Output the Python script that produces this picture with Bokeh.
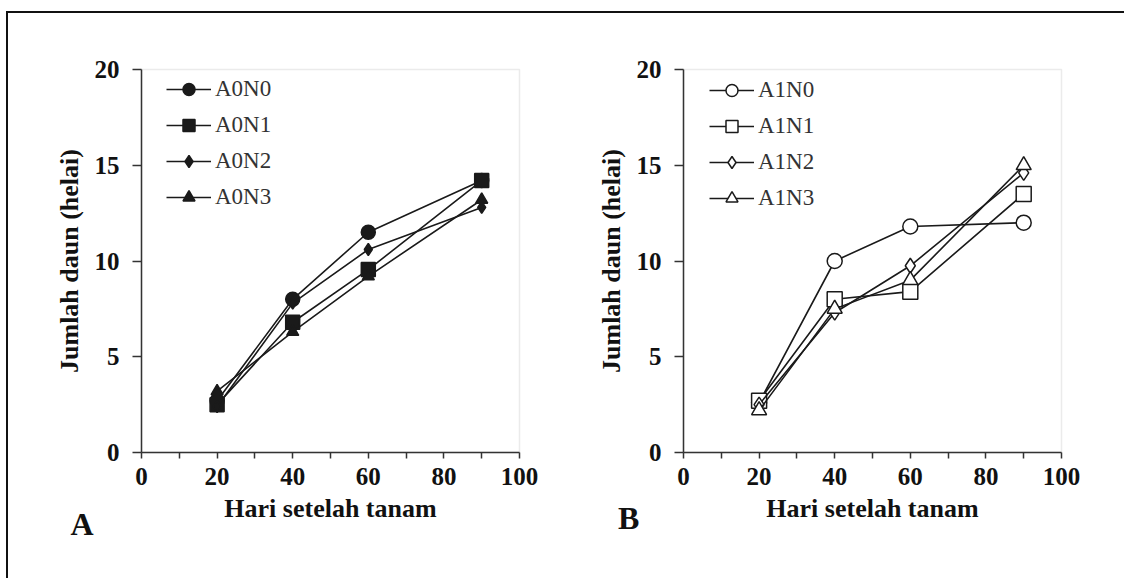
from bokeh.plotting import figure
from bokeh.layouts import row, column
from bokeh.models import FixedTicker, Legend, LegendItem, Title, Range1d
from bokeh.embed import file_html
from bokeh.resources import INLINE

# ---------------- data ----------------
days = [20, 40, 60, 90]

a_labels = ["A0N0", "A0N1", "A0N2", "A0N3"]
a0n0 = [2.7, 8.0, 11.5, 14.2]
a0n1 = [2.5, 6.8, 9.55, 14.2]
a0n2 = [2.4, 7.8, 10.6, 12.8]
a0n3 = [3.2, 6.3, 9.2, 13.2]

b_labels = ["A1N0", "A1N1", "A1N2", "A1N3"]
a1n0 = [2.6, 10.0, 11.8, 12.0]
a1n1 = [2.7, 8.0, 8.4, 13.5]
a1n2 = [2.5, 7.3, 9.75, 14.6]
a1n3 = [2.2, 7.5, 9.0, 15.0]

x_ticks = [0, 20, 40, 60, 80, 100]
x_minor = [10, 30, 50, 70, 90]
y_ticks = [0, 5, 10, 15, 20]

x_title = "Hari setelah tanam"
y_title = "Jumlah daun (helai)"

markers = ["circle", "square", "diamond", "triangle"]

SERIF = "Liberation Serif"
INK = "#1a1a1a"


def make_panel(series, labels, filled, sizes, letter, letter_offset,
               letter_standoff, leg_loc, width, height, ml, mr, mt, mb):
    p = figure(width=width, height=height, output_backend="svg",
               toolbar_location=None, title=None,
               x_range=Range1d(0, 100), y_range=Range1d(0, 20),
               min_border_left=ml, min_border_right=mr,
               min_border_top=mt, min_border_bottom=mb)
    p.grid.visible = False
    p.outline_line_color = "#ebebeb"
    p.outline_line_width = 1.5
    p.background_fill_color = "white"
    p.border_fill_color = "white"

    p.xaxis.ticker = FixedTicker(ticks=x_ticks, minor_ticks=x_minor)
    p.yaxis.ticker = FixedTicker(ticks=y_ticks)
    p.xaxis.axis_label = x_title
    p.yaxis.axis_label = y_title
    for ax in (p.xaxis[0], p.yaxis[0]):
        ax.axis_line_color = "#333333"
        ax.axis_line_width = 1.5
        ax.major_tick_line_color = "#333333"
        ax.major_tick_line_width = 1.5
        ax.major_tick_in = 0
        ax.major_label_text_font = SERIF
        ax.major_label_text_font_style = "bold"
        ax.major_label_text_font_size = "25px"
        ax.major_label_text_color = "#111111"
        ax.axis_label_text_font = SERIF
        ax.axis_label_text_font_style = "bold"
        ax.axis_label_text_font_size = "26px"
        ax.axis_label_text_color = "#111111"
    p.xaxis.major_tick_out = 6
    p.xaxis.minor_tick_in = 0
    p.xaxis.minor_tick_out = 6
    p.xaxis.minor_tick_line_color = "#333333"
    p.xaxis.minor_tick_line_width = 1.5
    p.xaxis.major_label_standoff = 9
    p.xaxis.axis_label_standoff = 6
    p.yaxis.major_tick_out = 9
    p.yaxis.minor_tick_line_color = None
    p.yaxis.major_label_standoff = 13
    p.yaxis.axis_label_standoff = 8

    items = []
    for vals, lab, mk, sz in zip(series, labels, markers, sizes):
        ln = p.line(days, vals, line_color=INK, line_width=1.6)
        sc = p.scatter(days, vals, marker=mk, size=sz,
                       fill_color=INK if filled else "white",
                       line_color=INK, line_width=1.5)
        items.append(LegendItem(label=lab, renderers=[ln, sc]))

    leg = Legend(items=items, location=leg_loc, margin=0, padding=0,
                 glyph_width=45, glyph_height=30, label_height=30,
                 spacing=6, label_standoff=4,
                 label_text_font=SERIF, label_text_font_size="23px",
                 label_text_color="#333333",
                 background_fill_alpha=0, border_line_color=None)
    p.add_layout(leg)

    p.add_layout(Title(text=letter, align="left", vertical_align="top",
                       offset=letter_offset, standoff=letter_standoff,
                       text_font=SERIF, text_font_style="bold",
                       text_font_size="32px", text_color="#111111"),
                 "below")
    return p


pA = make_panel([a0n0, a0n1, a0n2, a0n3], a_labels, True, [14, 14, 12, 12],
                "A", -71, -40, (25, 240),
                552, 565, 133, 41, 51, 126)
pB = make_panel([a1n0, a1n1, a1n2, a1n3], b_labels, False, [15, 15, 15, 15],
                "B", -65.5, -51, (26, 239),
                564, 565, 123, 63, 56, 123)

panels = row(pA, pB)
layout = column(panels)
layout.margin = (11, 0, 0, 6)
layout.styles = {"border-top": "2px solid #111111",
                 "border-left": "2px solid #111111",
                 "overflow": "hidden"}

open("out.html", "w").write(file_html(layout, INLINE))
